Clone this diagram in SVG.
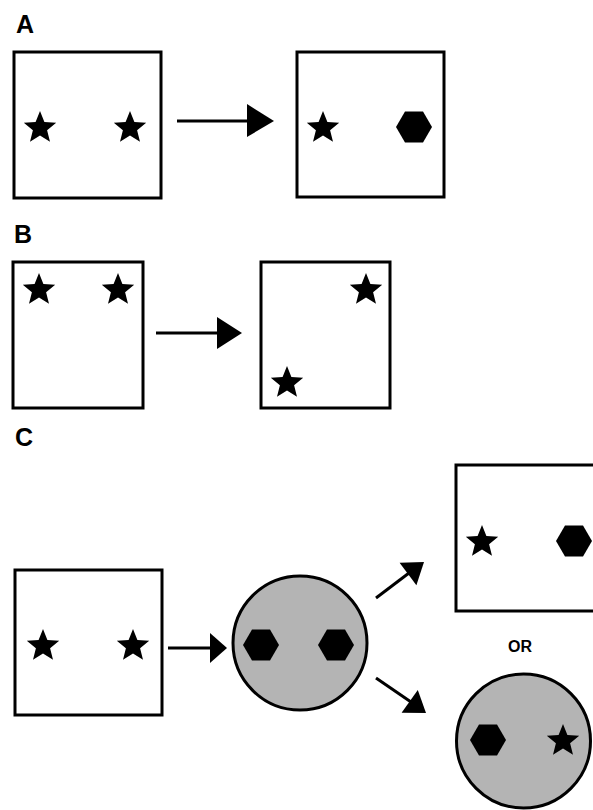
<svg xmlns="http://www.w3.org/2000/svg" xmlns:xlink="http://www.w3.org/1999/xlink" width="593" height="810" viewBox="0 0 593 810">
<style>
.box{fill:#fff;stroke:#000;stroke-width:3}
.disc{fill:#b4b4b4;stroke:#000;stroke-width:3}
.lbl{font-family:"Liberation Sans",Arial,sans-serif;font-weight:bold;fill:#000}
.conn line{stroke:#000;stroke-width:3}
.conn polygon{fill:#000}
</style>
<defs>
<path id="star" d="M0,-17 L4.4,-6.1 L16.2,-5.3 L7.1,2.3 L10,13.8 L0,7.4 L-10,13.8 L-7.1,2.3 L-16.2,-5.3 L-4.4,-6.1 Z" fill="#000"/>
<path id="hex" d="M-18,0 L-9,-15.6 L9,-15.6 L18,0 L9,15.6 L-9,15.6 Z" fill="#000"/>
</defs>
<rect width="593" height="810" fill="#fff"/>
<text class="lbl" x="16" y="33" font-size="25">A</text>
<text class="lbl" x="14" y="243" font-size="25">B</text>
<text class="lbl" x="15" y="446" font-size="25">C</text>
<text class="lbl" x="520" y="652" font-size="16" text-anchor="middle">OR</text>
<g id="a-left">
<rect class="box" x="14" y="52" width="147" height="146"/>
<use xlink:href="#star" x="40" y="128"/>
<use xlink:href="#star" x="130" y="128"/>
</g>
<g id="a-right">
<rect class="box" x="297" y="52" width="147" height="145"/>
<use xlink:href="#star" x="323" y="128"/>
<use xlink:href="#hex" x="414" y="127"/>
</g>
<g id="b-left">
<rect class="box" x="13" y="262" width="130" height="146"/>
<use xlink:href="#star" x="39" y="290"/>
<use xlink:href="#star" x="118" y="290"/>
</g>
<g id="b-right">
<rect class="box" x="261" y="262" width="129" height="146"/>
<use xlink:href="#star" x="366" y="290"/>
<use xlink:href="#star" x="287" y="383"/>
</g>
<g id="c-left">
<rect class="box" x="15" y="570" width="147" height="145"/>
<use xlink:href="#star" x="43" y="646"/>
<use xlink:href="#star" x="133" y="646"/>
</g>
<g id="c-mid">
<circle class="disc" cx="300" cy="643" r="67"/>
<use xlink:href="#hex" x="261" y="645"/>
<use xlink:href="#hex" x="336" y="645"/>
</g>
<g id="c-top">
<rect class="box" x="456" y="465" width="150" height="146"/>
<use xlink:href="#star" x="482" y="542"/>
<use xlink:href="#hex" x="574" y="541"/>
</g>
<g id="c-bottom">
<circle class="disc" cx="523.5" cy="741" r="67"/>
<use xlink:href="#hex" x="488" y="740"/>
<use xlink:href="#star" x="563" y="741"/>
</g>
<g id="connectors" class="conn">
<line x1="177" y1="121" x2="249" y2="121"/>
<polygon points="247,104 274,121 247,137"/>
<line x1="156" y1="333" x2="219" y2="333"/>
<polygon points="217,317 242,333 217,349"/>
<line x1="168" y1="648" x2="212" y2="648"/>
<polygon points="210,633 227,648 210,663"/>
<line x1="376" y1="598" x2="409" y2="573"/>
<polygon points="424,562 416.4,585.2 399.6,562.8"/>
<line x1="376" y1="678" x2="411" y2="702"/>
<polygon points="426,713 401.6,712.8 417.8,690"/>
</g>
</svg>
